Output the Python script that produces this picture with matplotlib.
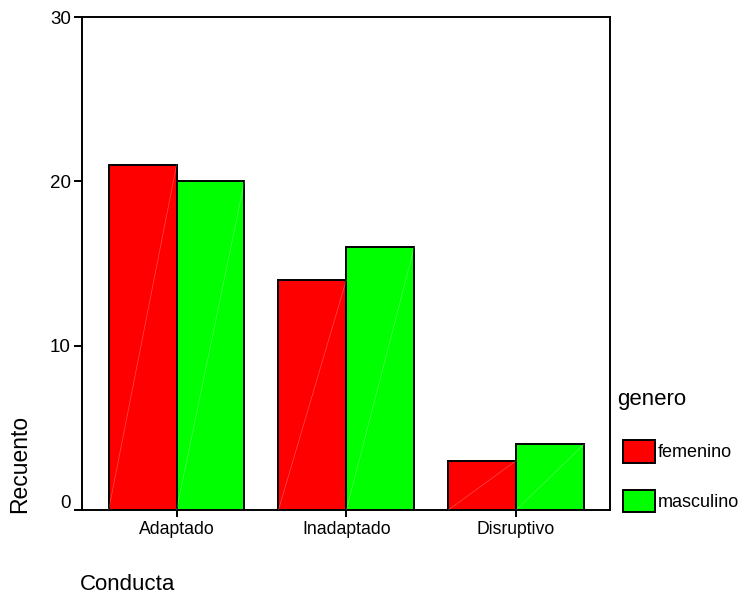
import numpy as np
import matplotlib.pyplot as plt
from matplotlib.transforms import ScaledTranslation

plt.rcParams['font.family'] = ['Liberation Sans', 'DejaVu Sans']

categorias = ['Adaptado', 'Inadaptado', 'Disruptivo']
femenino = [21, 14, 3]
masculino = [20, 16, 4]
generos = ['femenino', 'masculino']
colores = ['#ff0000', '#00ff00']

fig = plt.figure(figsize=(7.44, 6.01), dpi=100)
ax = fig.add_axes([0.1102, 0.1514, 0.7097, 0.8203])

x = np.arange(len(categorias))
w = 0.4
b1 = ax.bar(x - w / 2, femenino, w, color=colores[0], edgecolor='black', linewidth=1.4, label=generos[0])
b2 = ax.bar(x + w / 2, masculino, w, color=colores[1], edgecolor='black', linewidth=1.4, label=generos[1])

# lineas diagonales tenues dentro de las barras
for p in list(b1) + list(b2):
    x0, y0 = p.get_x(), p.get_y()
    ax.plot([x0, x0 + p.get_width()], [y0, y0 + p.get_height()], color='white', lw=0.5, alpha=0.3, zorder=3)

ax.set_xlim(-0.557, 2.553)
ax.set_ylim(0, 30)
ax.set_yticks([0, 10, 20, 30])
ax.set_xticks(x)
ax.set_xticklabels(categorias)
ax.tick_params(axis='x', direction='out', length=5, width=1.4, labelsize=12.7, pad=3)
ax.tick_params(axis='y', direction='out', length=6, width=1.4, labelsize=13.5, pad=2)
for s in ax.spines.values():
    s.set_linewidth(1.4)

# el 0 va un poco mas arriba
lab0 = ax.get_yticklabels()[0]
lab0.set_transform(lab0.get_transform() + ScaledTranslation(0, 0.09, fig.dpi_scale_trans))

fig.text(0.027, 0.228, 'Recuento', rotation=90, fontsize=16.5, ha='center', va='center')
fig.text(0.108, 0.027, 'Conducta', fontsize=16, ha='left', va='center')

# leyenda
fig.text(0.829, 0.335, 'genero', fontsize=16, ha='left', va='center')
fig.legend(handles=[b1, b2], labels=generos, fontsize=13,
           loc='upper left', bbox_to_anchor=(0.8374, 0.268), frameon=False,
           handlelength=1.75, handleheight=1.55, handletextpad=0.2, labelspacing=1.5,
           borderaxespad=0, borderpad=0)

fig.savefig('out.png', dpi=100)
